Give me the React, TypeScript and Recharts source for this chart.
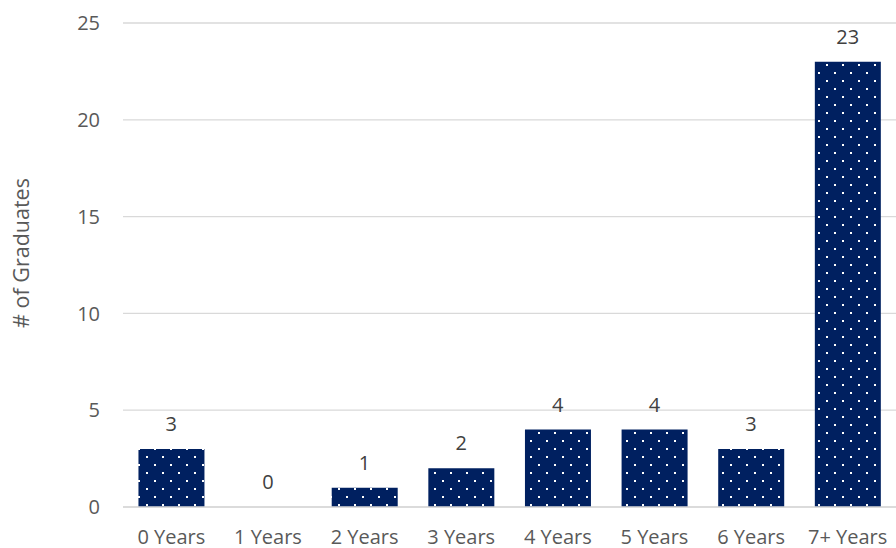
import { ComposedChart, Bar, Line, XAxis, YAxis, CartesianGrid, LabelList } from "recharts";

const categories = ["0 Years", "1 Years", "2 Years", "3 Years", "4 Years", "5 Years", "6 Years", "7+ Years"];
const graduates = [3, 0, 1, 2, 4, 4, 3, 23];
const yTicks = [0, 5, 10, 15, 20, 25];

const data = categories.map((name, i) => ({ name, graduates: graduates[i] }));

const font = "'Open Sans', sans-serif";

function YLabel() {
  return (
    <text
      x={20}
      y={253}
      transform="rotate(-90 20 253)"
      textAnchor="middle"
      dominantBaseline="central"
      fill="#595959"
      fontSize={21.5}
      fontFamily={font}
    >
      # of Graduates
    </text>
  );
}

export default function App() {
  return (
    <div style={{ position: "absolute", left: 0, top: 0, width: 896, height: 548, background: "#fff" }}>
      <ComposedChart
        width={896}
        height={548}
        data={data}
        margin={{ top: 23, right: 0, bottom: 0, left: 0 }}
        barCategoryGap="16%"
      >
        <defs>
          <pattern id="dots" width={16} height={16} patternUnits="userSpaceOnUse">
            <rect width={16} height={16} fill="#002060" />
            <rect x={2} y={8} width={2} height={2} fill="#fff" />
            <rect x={10} y={0} width={2} height={2} fill="#fff" />
          </pattern>
        </defs>
        <CartesianGrid vertical={false} stroke="#d9d9d9" strokeWidth={1.3} />
        <XAxis
          dataKey="name"
          height={41}
          axisLine={{ stroke: "#d9d9d9", strokeWidth: 1.3 }}
          tickLine={false}
          tickMargin={17}
          tick={{ fill: "#595959", fontSize: 20, fontFamily: font }}
          interval={0}
        />
        <YAxis
          width={123}
          domain={[0, 25]}
          ticks={yTicks}
          axisLine={false}
          tickLine={false}
          tickMargin={17}
          tick={{ fill: "#595959", fontSize: 20, fontFamily: font }}
          label={<YLabel />}
        />
        <Bar dataKey="graduates" fill="url(#dots)" isAnimationActive={false} />
        <Line
          dataKey="graduates"
          stroke="none"
          dot={false}
          activeDot={false}
          legendType="none"
          isAnimationActive={false}
        >
          <LabelList
            dataKey="graduates"
            position="top"
            offset={18}
            fill="#404040"
            fontSize={20}
            fontFamily={font}
          />
        </Line>
      </ComposedChart>
    </div>
  );
}
